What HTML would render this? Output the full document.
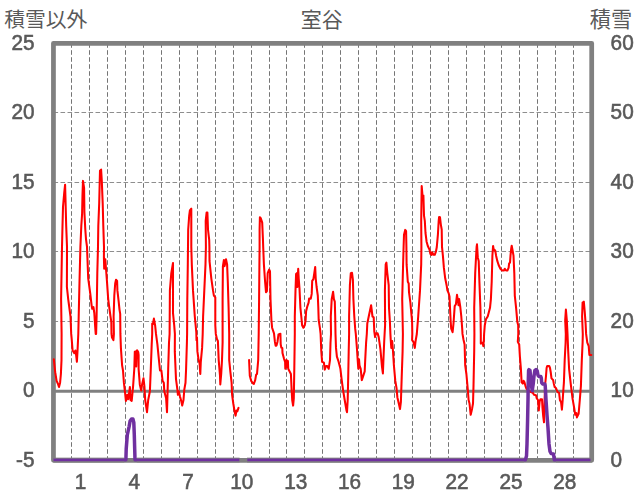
<!DOCTYPE html>
<html lang="ja"><head><meta charset="utf-8"><title>室谷</title>
<style>html,body{margin:0;padding:0;background:#fff}body{width:636px;height:501px;overflow:hidden;font-family:"Liberation Sans",sans-serif}svg{display:block}</style>
</head><body>
<svg width="636" height="501" viewBox="0 0 636 501">
<rect width="636" height="501" fill="#fff"/>
<g stroke-width="1" stroke-dasharray="4.6 2.4" fill="none"><g stroke="#757575"><line x1="71.5" y1="43.2" x2="71.5" y2="460.2"/><line x1="89.5" y1="43.2" x2="89.5" y2="460.2"/><line x1="107.5" y1="43.2" x2="107.5" y2="460.2"/><line x1="125.5" y1="43.2" x2="125.5" y2="460.2"/><line x1="143.5" y1="43.2" x2="143.5" y2="460.2"/><line x1="161.5" y1="43.2" x2="161.5" y2="460.2"/><line x1="179.5" y1="43.2" x2="179.5" y2="460.2"/><line x1="197.5" y1="43.2" x2="197.5" y2="460.2"/><line x1="215.5" y1="43.2" x2="215.5" y2="460.2"/><line x1="233.5" y1="43.2" x2="233.5" y2="460.2"/><line x1="251.5" y1="43.2" x2="251.5" y2="460.2"/><line x1="269.5" y1="43.2" x2="269.5" y2="460.2"/><line x1="286.5" y1="43.2" x2="286.5" y2="460.2"/><line x1="304.5" y1="43.2" x2="304.5" y2="460.2"/><line x1="322.5" y1="43.2" x2="322.5" y2="460.2"/><line x1="340.5" y1="43.2" x2="340.5" y2="460.2"/><line x1="358.5" y1="43.2" x2="358.5" y2="460.2"/><line x1="376.5" y1="43.2" x2="376.5" y2="460.2"/><line x1="394.5" y1="43.2" x2="394.5" y2="460.2"/><line x1="412.5" y1="43.2" x2="412.5" y2="460.2"/><line x1="430.5" y1="43.2" x2="430.5" y2="460.2"/><line x1="448.5" y1="43.2" x2="448.5" y2="460.2"/><line x1="466.5" y1="43.2" x2="466.5" y2="460.2"/><line x1="484.5" y1="43.2" x2="484.5" y2="460.2"/><line x1="501.5" y1="43.2" x2="501.5" y2="460.2"/><line x1="519.5" y1="43.2" x2="519.5" y2="460.2"/><line x1="537.5" y1="43.2" x2="537.5" y2="460.2"/><line x1="555.5" y1="43.2" x2="555.5" y2="460.2"/><line x1="573.5" y1="43.2" x2="573.5" y2="460.2"/></g><g stroke="#8e8e8e"><line x1="53.5" y1="321.50" x2="591.7" y2="321.50"/><line x1="53.5" y1="251.50" x2="591.7" y2="251.50"/><line x1="53.5" y1="182.50" x2="591.7" y2="182.50"/><line x1="53.5" y1="112.50" x2="591.7" y2="112.50"/></g></g>
<line x1="53.5" y1="391.3" x2="591.7" y2="391.3" stroke="#808080" stroke-width="3"/>
<rect x="53.45" y="43.30" width="538.25" height="416.95" fill="none" stroke="#808080" stroke-width="4.75" stroke-linejoin="round"/>
<g fill="none" stroke="#ff0000" stroke-width="2.05" stroke-linejoin="round" stroke-linecap="round"><polyline points="53.8,359.2 55.2,372.2 56.6,380.9 57.8,383.5 59.0,387.0 60.1,382.7 60.9,374.0 61.5,360.1 61.6,334.0 61.1,299.1 62.0,247.0 62.5,226.0 63.0,206.9 64.2,193.0 65.1,184.7 65.6,203.4 66.2,226.0 67.0,246.9 66.9,287.0 68.2,299.1 70.5,316.5 71.2,333.9 71.7,339.2 72.6,350.5 74.3,353.1 75.4,350.5 76.1,354.9 76.9,361.8 77.5,351.4 78.3,334.0 78.7,316.5 79.5,281.8 80.4,247.0 81.3,226.0 82.1,213.9 82.5,194.8 83.0,180.9 84.1,187.8 84.4,212.1 85.3,229.5 86.0,239.1 87.0,246.9 87.4,257.4 88.2,278.3 90.3,293.9 91.7,306.1 92.2,308.7 93.4,307.0 94.3,313.0 95.2,326.9 95.7,333.9 96.1,333.9 96.6,316.5 96.9,299.1 97.3,273.1 98.0,247.0 98.3,226.0 99.2,203.4 99.7,182.6 100.0,170.8 101.1,169.6 101.8,180.9 102.7,203.4 103.3,226.0 104.0,246.9 103.9,257.4 104.2,268.7 105.3,259.2 106.0,268.7 107.0,281.8 108.2,299.1 109.1,306.1 110.5,316.5 111.3,321.7 111.5,333.9 112.0,337.5 113.4,340.1 113.9,334.0 113.6,316.5 114.3,295.7 115.2,283.5 116.0,279.7 117.1,280.9 117.4,290.4 118.6,300.9 119.5,309.6 120.2,313.9 120.4,333.9 120.9,347.9 122.1,365.3 123.0,370.5 123.9,382.7 125.1,393.1 125.9,400.9 127.3,394.8 128.2,399.2 129.1,393.1 129.9,387.0 130.5,400.0 131.7,400.9 133.1,386.1 134.3,368.8 134.8,351.8 135.8,351.4 136.2,366.5 136.8,352.5 137.1,350.2 138.2,352.0 138.6,355.0 138.6,368.8 139.8,384.4 141.2,390.5 142.1,384.4 143.5,378.3 144.4,386.1 145.2,400.0 147.0,412.2 148.2,400.0 149.9,391.3 150.8,368.8 151.7,344.4 152.2,334.0 152.2,323.5 152.9,324.3 153.9,318.6 155.1,325.2 156.0,333.9 157.4,344.4 158.6,356.6 160.0,370.5 161.4,370.5 162.6,380.9 163.8,382.7 164.3,391.3 166.1,398.3 167.0,412.2 167.5,394.8 168.2,368.8 169.0,342.7 169.6,334.0 169.9,290.4 171.3,273.1 173.0,263.0 173.0,313.0 174.2,325.2 174.9,333.9 174.8,351.4 176.0,379.2 177.4,389.6 177.9,394.8 178.8,391.3 180.0,396.6 181.2,400.9 182.2,405.6 183.5,400.0 184.3,389.6 185.5,382.7 186.1,368.8 186.9,342.7 187.1,334.0 187.3,299.1 187.8,264.4 188.0,247.0 188.2,229.5 189.2,215.6 189.9,210.4 191.3,208.7 191.3,229.5 191.3,246.9 191.8,264.4 193.0,290.4 194.8,316.5 196.3,332.2 196.5,340.1 197.0,337.5 197.4,351.4 198.6,360.1 199.6,363.5 200.3,374.0 200.8,361.8 202.1,347.9 202.7,334.0 203.1,316.5 204.3,290.4 205.5,264.4 205.9,247.0 205.7,220.8 206.6,212.5 207.4,212.5 208.0,229.5 209.2,239.9 209.4,246.9 209.5,260.9 211.3,278.3 213.0,290.4 213.9,295.7 215.3,297.4 215.3,325.2 215.8,333.9 217.0,339.2 217.9,341.0 218.7,360.1 220.0,375.7 220.3,384.4 221.2,374.0 222.0,360.1 222.6,342.7 222.6,334.0 222.6,299.1 222.9,266.1 223.9,260.0 224.6,266.1 226.0,259.2 227.1,264.4 227.8,281.8 228.6,307.8 229.2,333.9 229.2,360.1 230.4,372.2 231.6,382.7 232.1,394.8 233.3,403.5 234.7,412.2 235.6,415.7 236.5,410.5 237.3,411.3 238.5,407.9"/><polyline points="249.1,360.1 249.8,375.7 251.2,380.9 253.0,383.5 253.8,384.0 255.2,380.1 256.1,374.8 257.0,374.0 258.2,360.1 258.7,334.0 259.1,299.1 259.4,264.4 259.6,247.0 259.6,229.5 259.9,217.3 260.8,218.2 262.2,222.6 262.9,238.2 263.2,246.9 263.9,264.4 265.1,281.8 266.0,292.2 266.9,291.3 267.7,273.1 269.1,269.6 270.0,271.3 270.0,271.3 270.5,299.1 271.4,320.0 272.1,327.7 274.0,333.4 274.9,341.7 275.6,345.6 276.5,345.6 277.5,341.7 278.5,334.4 280.4,333.7 280.7,344.3 281.3,347.5 282.3,348.1 282.5,353.1 283.9,358.3 285.1,361.8 285.3,368.8 286.5,360.1 287.4,367.0 287.9,360.9 288.2,368.8 290.0,372.2 290.9,374.0 291.7,391.3 292.2,400.0 293.1,405.6 293.8,398.3 294.3,368.8 294.8,334.0 294.8,316.5 295.5,290.4 296.1,273.9 296.9,273.1 297.3,287.0 298.2,268.7 298.7,278.3 299.5,288.7 300.4,307.8 301.3,316.5 302.1,325.2 303.4,327.8 304.8,325.2 305.6,320.0 306.1,311.3 307.4,306.1 308.6,302.6 309.1,298.6 310.8,298.6 311.7,293.9 312.2,280.9 313.4,279.1 314.3,273.1 315.2,267.0 315.7,278.3 316.6,287.0 317.8,295.7 318.3,307.8 318.7,320.0 320.0,328.7 320.6,333.9 321.3,351.4 322.1,361.8 323.9,362.7 324.7,369.6 326.0,366.1 327.3,366.1 328.7,368.8 330.0,360.1 330.5,342.7 331.0,334.0 330.8,316.5 331.7,299.1 333.1,291.8 333.9,299.1 334.8,301.7 335.2,316.5 335.5,333.9 336.0,347.9 336.9,356.6 338.6,361.8 340.4,368.8 341.6,379.2 343.0,389.6 344.7,400.0 346.5,410.5 347.0,412.2 347.7,400.0 348.2,377.4 348.7,351.4 349.1,334.0 349.1,316.5 349.9,285.2 350.8,273.1 352.0,272.7 352.9,280.0 353.4,299.1 354.3,316.5 355.2,328.7 355.8,333.9 356.9,347.9 357.8,361.8 358.3,368.8 359.0,359.2 359.5,365.3 360.7,368.8 361.8,380.1 363.0,376.6 364.7,371.4 365.2,360.1 366.1,342.7 366.8,334.0 367.3,323.5 369.1,314.8 371.1,305.2 372.5,316.5 373.7,317.4 374.3,331.6 375.1,337.1 376.0,333.2 377.6,333.2 378.7,337.1 380.4,349.2 382.0,366.8 382.9,373.4 383.5,358.0 384.2,341.5 385.1,325.0 384.9,290.4 385.7,264.4 386.4,262.6 387.3,273.1 388.7,285.2 389.0,307.8 389.9,321.7 390.4,333.9 390.8,341.0 391.3,347.9 392.2,341.0 393.0,351.4 393.9,365.3 395.3,380.9 396.5,387.9 397.4,397.4 398.8,403.5 400.0,409.1 400.9,401.8 401.7,377.4 402.6,351.4 402.9,334.0 402.2,299.1 403.1,264.4 403.6,247.0 404.0,234.7 405.2,229.9 406.1,231.2 406.4,246.9 406.6,264.4 407.8,281.8 408.7,283.5 409.0,292.2 410.4,302.6 411.3,313.0 412.1,321.7 412.3,333.9 412.1,340.1 413.4,341.8 414.8,347.9 415.6,341.0 416.8,334.0 418.2,316.5 420.0,290.4 421.2,264.4 421.4,247.0 421.2,220.8 421.7,186.1 422.6,196.5 423.4,195.6 424.0,215.6 424.8,220.8 425.5,233.0 426.6,241.7 427.8,246.0 429.5,249.6 430.4,254.0 431.6,254.8 432.1,252.2 433.5,254.8 434.7,254.8 436.0,251.3 436.8,247.0 437.9,234.7 438.7,220.8 439.1,217.0 440.0,217.3 440.8,224.3 441.7,229.5 442.0,246.9 442.9,255.7 443.9,267.9 445.2,278.3 446.6,285.2 447.4,290.4 448.6,293.1 449.5,296.5 450.0,307.8 450.7,321.7 451.2,328.7 452.6,332.2 453.5,323.5 454.7,306.1 455.9,304.3 457.0,294.8 457.7,299.1 458.5,305.2 459.1,299.1 460.3,307.0 461.3,316.5 462.2,328.7 462.5,333.9 463.4,339.2 464.6,344.4 465.2,365.3 466.4,374.0 467.8,389.6 468.6,400.0 469.5,403.5 470.7,414.8 472.1,408.7 473.0,403.5 473.5,386.1 474.2,351.4 474.4,334.0 474.2,307.8 475.2,273.1 476.1,255.7 476.6,247.0 477.0,244.3 477.8,257.4 478.7,260.9 479.4,281.8 480.4,307.8 480.8,333.9 480.8,343.6 482.5,342.7 483.4,346.2 483.9,339.2 484.1,334.0 484.8,325.2 486.0,319.1 487.7,316.5 489.1,311.3 490.0,307.8 490.9,299.1 491.7,281.8 492.4,255.7 493.0,247.0 493.1,246.0 493.8,250.5 494.3,249.6 495.2,250.5 496.1,255.7 497.3,260.9 498.7,265.2 500.4,268.7 502.2,270.5 503.9,270.5 504.8,268.7 506.0,270.5 507.4,270.5 508.6,267.9 509.1,263.5 510.0,262.6 510.5,255.7 511.2,248.7 511.7,245.7 512.6,250.5 513.5,255.7 514.3,273.1 514.8,295.7 516.1,307.8 517.3,321.7 518.2,325.2 518.3,333.9 517.8,341.8 519.2,344.4 519.9,356.6 520.9,368.8 521.6,382.4 522.8,383.6 523.6,380.8 524.4,382.0 525.6,386.4 526.4,388.8 529.0,391.0 532.8,392.8 534.0,394.8 536.0,395.2 536.8,398.4 538.0,400.0 538.8,410.4 539.6,401.6 540.4,399.2 542.0,399.2 542.5,408.0 543.2,416.0 544.0,422.3 544.6,400.0 545.2,384.0 546.0,376.0 546.6,368.0 547.2,366.0 549.2,366.0 550.0,368.0 550.7,372.0 551.5,378.4 553.1,380.0 553.9,384.0 554.7,387.2 556.0,388.0 557.5,392.0 559.1,392.8 559.9,400.0 561.1,402.4 561.9,409.6 562.7,400.0 563.5,388.0 563.9,382.7 564.7,360.1 565.6,342.7 565.8,334.0 565.2,320.0 565.9,309.6 566.8,320.0 567.5,333.9 568.2,351.4 569.1,368.8 570.8,384.4 572.5,398.3 574.3,408.7 575.2,414.8 576.4,413.1 576.9,417.4 578.6,413.9 579.8,400.0 580.9,386.1 581.8,360.1 582.6,342.7 582.8,334.0 582.1,316.5 582.6,302.6 583.8,301.7 584.7,311.3 585.6,323.5 586.1,333.9 587.3,342.7 588.7,346.2 589.4,354.9 591.3,354.9"/></g>
<g fill="none" stroke="#7030a0" stroke-width="3.5" stroke-linejoin="round" stroke-linecap="butt"><polyline points="53.5,459.8 125.9,459.8 126.2,449.0 127.3,435.0 129.1,426.6 130.1,421.0 131.5,418.9 132.9,418.9 133.8,422.4 134.3,435.0 134.7,449.0 135.0,459.8 239.3,459.8"/><polyline points="247.3,459.8 525.4,459.8 526.5,456.0 527.0,443.9 527.6,420.0 528.0,399.9 528.2,384.0 528.6,370.4 529.0,369.7 530.0,370.4 530.8,380.0 531.6,386.4 532.2,390.8 533.2,384.0 534.0,376.0 534.9,370.4 536.0,369.6 537.2,370.8 538.0,375.2 538.9,376.4 540.8,376.4 541.3,378.0 541.7,382.8 542.8,384.0 544.8,384.0 545.2,385.6 545.6,392.0 546.0,399.9 547.0,415.0 548.0,428.0 549.0,443.9 550.0,451.5 551.2,453.6 553.5,454.0 554.3,459.8 590.5,459.8"/></g>
<g fill="none" stroke="#808080"  stroke-width="1.0"><path d="M53.4 458.15H124.3M53.4 461.95H124.3"/><path d="M136.7 458.15H239.6M136.7 461.95H239.6"/><path d="M247.0 458.15H523.8M247.0 461.95H523.8"/><path d="M556.0 458.15H591.7M556.0 461.95H591.7"/></g>
<g fill="#595959" font-family="'Liberation Sans', 'Noto Sans CJK JP', sans-serif"><text x="4.2" y="26.6" font-size="20.8" stroke="none">積雪以外</text></g>
<g fill="#595959" font-family="'Liberation Sans', 'Noto Sans CJK JP', sans-serif"><text x="300.7" y="26.6" font-size="21.0" stroke="none">室谷</text></g>
<g fill="#595959" font-family="'Liberation Sans', 'Noto Sans CJK JP', sans-serif"><text x="589.8" y="26.6" font-size="21.2" stroke="none">積雪</text></g>
<g font-family="'Liberation Sans', sans-serif" font-size="22.6" fill="#595959" stroke="#595959" stroke-width="0.6" opacity="0.999"><text transform="translate(34.5 49.9) scale(0.92 1)" text-anchor="end">25</text><text transform="translate(34.5 119.4) scale(0.92 1)" text-anchor="end">20</text><text transform="translate(34.5 188.9) scale(0.92 1)" text-anchor="end">15</text><text transform="translate(34.5 258.4) scale(0.92 1)" text-anchor="end">10</text><text transform="translate(34.5 327.9) scale(0.92 1)" text-anchor="end">5</text><text transform="translate(34.5 397.4) scale(0.92 1)" text-anchor="end">0</text><text transform="translate(34.5 466.9) scale(0.92 1)" text-anchor="end">-5</text><text transform="translate(610.6 49.9) scale(0.92 1)" text-anchor="start">60</text><text transform="translate(610.6 119.4) scale(0.92 1)" text-anchor="start">50</text><text transform="translate(610.6 188.9) scale(0.92 1)" text-anchor="start">40</text><text transform="translate(610.6 258.4) scale(0.92 1)" text-anchor="start">30</text><text transform="translate(610.6 327.9) scale(0.92 1)" text-anchor="start">20</text><text transform="translate(610.6 397.4) scale(0.92 1)" text-anchor="start">10</text><text transform="translate(610.6 466.9) scale(0.92 1)" text-anchor="start">0</text><text transform="translate(80.4 489.0) scale(0.92 1)" text-anchor="middle">1</text><text transform="translate(134.2 489.0) scale(0.92 1)" text-anchor="middle">4</text><text transform="translate(188.0 489.0) scale(0.92 1)" text-anchor="middle">7</text><text transform="translate(241.8 489.0) scale(0.92 1)" text-anchor="middle">10</text><text transform="translate(295.7 489.0) scale(0.92 1)" text-anchor="middle">13</text><text transform="translate(349.5 489.0) scale(0.92 1)" text-anchor="middle">16</text><text transform="translate(403.3 489.0) scale(0.92 1)" text-anchor="middle">19</text><text transform="translate(457.1 489.0) scale(0.92 1)" text-anchor="middle">22</text><text transform="translate(511.0 489.0) scale(0.92 1)" text-anchor="middle">25</text><text transform="translate(564.8 489.0) scale(0.92 1)" text-anchor="middle">28</text></g>
</svg>
</body></html>
